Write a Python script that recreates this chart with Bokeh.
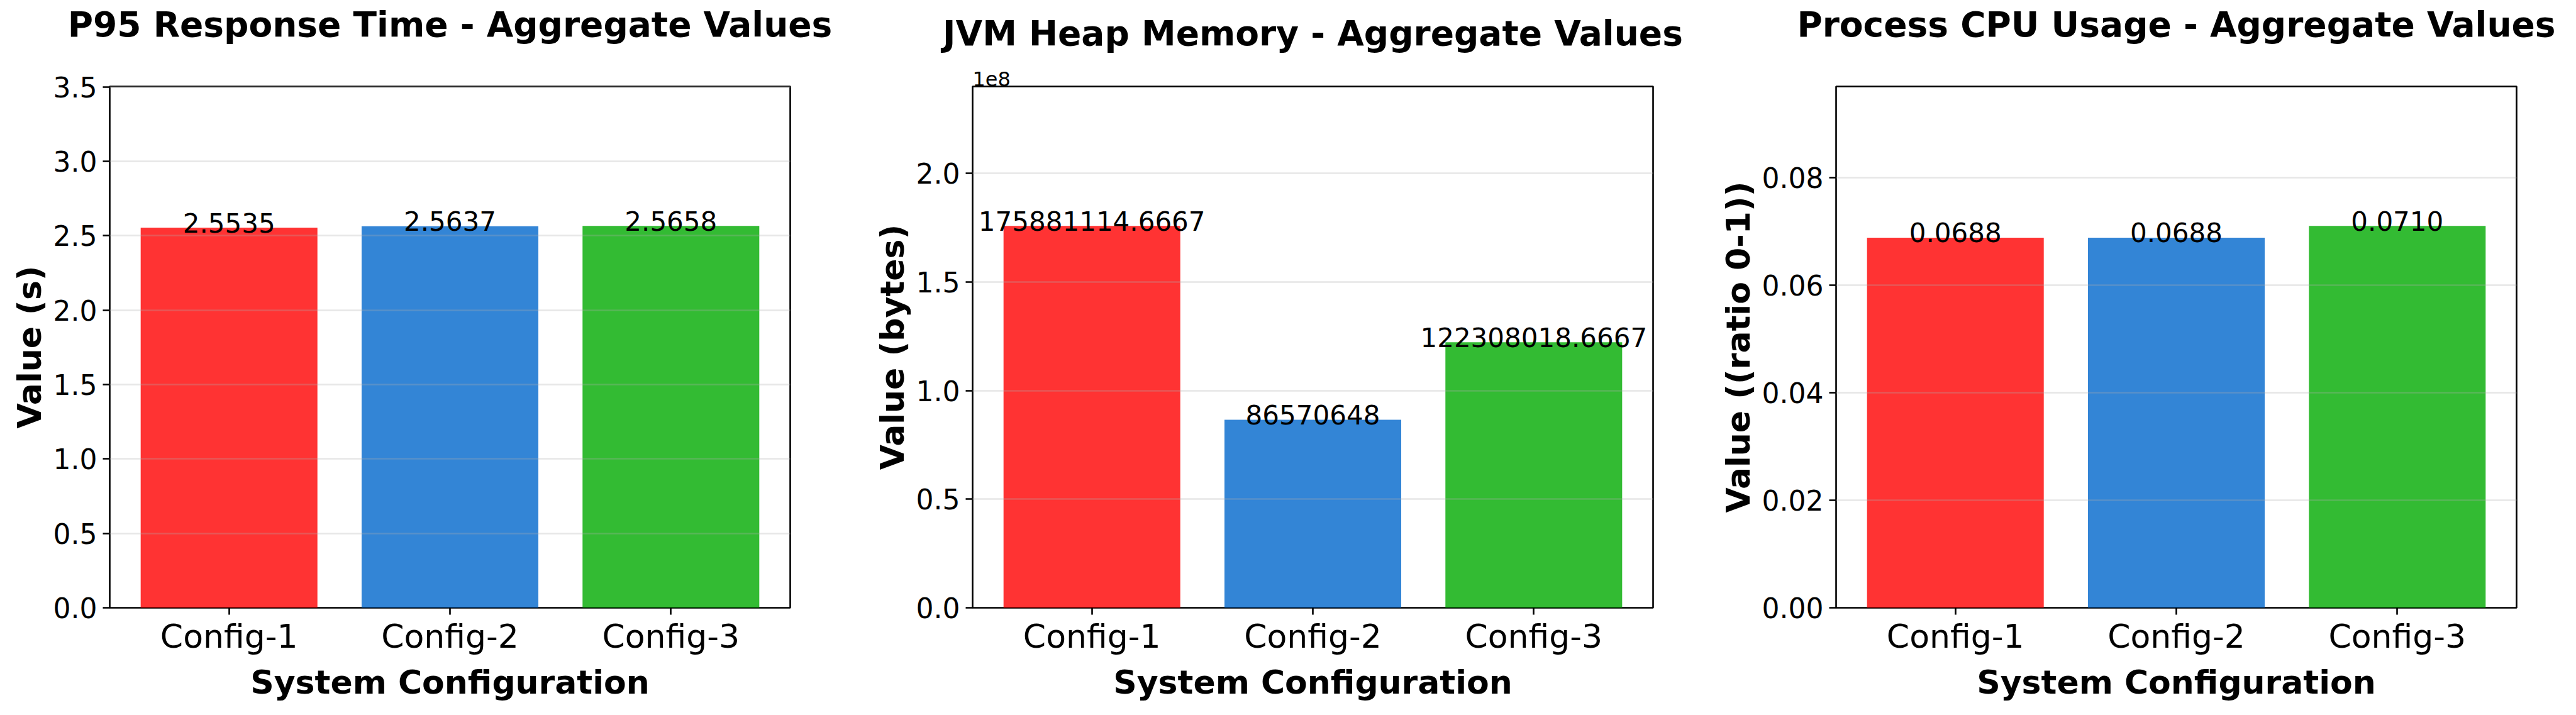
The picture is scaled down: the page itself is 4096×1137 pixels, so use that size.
from bokeh.plotting import figure
from bokeh.layouts import row
from bokeh.models import (Range1d, FixedTicker, PrintfTickFormatter, CustomJSTickFormatter,
                          ColumnDataSource, Title)
from bokeh.embed import file_html
from bokeh.resources import INLINE
from bokeh.core.properties import value

# ---------------- data ----------------
configs = ["Config-1", "Config-2", "Config-3"]
bar_colors = ["#FF0000", "#0066CC", "#00AA00"]

p95_values = [2.5535, 2.5637, 2.5658]
heap_values = [175881114.6667, 86570648.0, 122308018.6667]
cpu_values = [0.0688, 0.0688, 0.0710]

titles = ["P95 Response Time - Aggregate Values",
          "JVM Heap Memory - Aggregate Values",
          "Process CPU Usage - Aggregate Values"]
ylabels = ["Value (s)", "Value (bytes)", "Value ((ratio 0-1))"]
xlabel = "System Configuration"

p95_ticks = [0.0, 0.5, 1.0, 1.5, 2.0, 2.5, 3.0, 3.5]
heap_ticks = [0.0, 0.5e8, 1.0e8, 1.5e8, 2.0e8]
cpu_ticks = [0.0, 0.02, 0.04, 0.06, 0.08]
heap_offset_text = "1e8"

# ---------------- layout / style ----------------
FONT = "DejaVu Sans"
H = 1118
MBT = 137
FRAME_H = 829
MBB = H - MBT - FRAME_H
LW = 2.6
TICK = 11


def fmt(v):
    return str(int(v)) if float(v).is_integer() else f"{v:.4f}"


def make_panel(values, title, ylabel, yticks, yformatter, width, mbl, mbr, offset_text=None):
    n = len(values)
    xs = list(range(n))
    bw = 0.8
    span = (n - 1) + bw
    x0 = -bw / 2 - 0.05 * span
    x1 = (n - 1) + bw / 2 + 0.05 * span
    ytop = max(values) * 1.365

    p = figure(width=width, height=H, x_range=Range1d(x0, x1), y_range=Range1d(0, ytop),
               output_backend="svg", toolbar_location=None, tools="",
               min_border_left=mbl, min_border_right=mbr,
               min_border_top=MBT, min_border_bottom=MBB)
    p.title.text = ""
    p.background_fill_color = "white"
    p.border_fill_color = "white"
    p.outline_line_color = "black"
    p.outline_line_width = LW
    p.outline_line_alpha = 1.0

    # panels above the frame, added from the frame outward
    if offset_text:
        p.add_layout(Title(text=offset_text, align="left", text_font=FONT,
                           text_font_size="32px", text_font_style="normal",
                           text_color="black", standoff=2), "above")
        gap = 10
    else:
        gap = 51
    p.add_layout(Title(text=" ", text_font=FONT, text_font_size="10px",
                       standoff=gap), "above")
    p.add_layout(Title(text=title, align="center", text_font=FONT, text_font_size="55px",
                       text_font_style="bold", text_color="black", standoff=5), "above")

    src = ColumnDataSource(dict(x=xs, top=values, color=bar_colors[:n],
                                label=[fmt(v) for v in values]))
    p.vbar(x="x", top="top", bottom=0, width=bw, fill_color="color", fill_alpha=0.8,
           line_color=None, source=src)
    p.text(x="x", y="top", text="label", source=src, text_align="center",
           text_baseline="alphabetic", y_offset=-8, text_font=value(FONT),
           text_font_size="42px", text_color="black", level="overlay")

    # x axis
    xa = p.xaxis[0]
    xa.ticker = FixedTicker(ticks=xs)
    xa.major_label_overrides = {i: c for i, c in zip(xs, configs)}
    xa.major_label_text_font = FONT
    xa.major_label_text_font_size = "52px"
    xa.major_label_text_color = "black"
    xa.major_label_standoff = 4
    xa.major_tick_out = TICK
    xa.major_tick_in = 0
    xa.major_tick_line_width = LW
    xa.major_tick_line_color = "black"
    xa.minor_tick_line_color = None
    xa.axis_line_color = None
    xa.axis_label = xlabel
    xa.axis_label_text_font = FONT
    xa.axis_label_text_font_size = "52px"
    xa.axis_label_text_font_style = "bold"
    xa.axis_label_text_color = "black"
    xa.axis_label_standoff = 10

    # y axis
    ya = p.yaxis[0]
    ya.ticker = FixedTicker(ticks=yticks)
    ya.formatter = yformatter
    ya.major_label_text_font = FONT
    ya.major_label_text_font_size = "44px"
    ya.major_label_text_color = "black"
    ya.major_label_standoff = 9
    ya.major_tick_out = TICK
    ya.major_tick_in = 0
    ya.major_tick_line_width = LW
    ya.major_tick_line_color = "black"
    ya.minor_tick_line_color = None
    ya.axis_line_color = None
    ya.axis_label = ylabel
    ya.axis_label_text_font = FONT
    ya.axis_label_text_font_size = "52px"
    ya.axis_label_text_font_style = "bold"
    ya.axis_label_text_color = "black"
    ya.axis_label_standoff = 5

    # grid (drawn over the bars, as in the reference)
    p.xgrid.visible = False
    p.ygrid.ticker = FixedTicker(ticks=yticks)
    p.ygrid.grid_line_color = "#b0b0b0"
    p.ygrid.grid_line_alpha = 0.3
    p.ygrid.grid_line_width = LW
    p.ygrid.level = "guide"
    return p


widths = [1360, 1340, 1376]
lefts = [174, 186, 219]
rights = [104, 72, 75]

p1 = make_panel(p95_values, titles[0], ylabels[0], p95_ticks,
                PrintfTickFormatter(format="%.1f"), widths[0], lefts[0], rights[0])
p2 = make_panel(heap_values, titles[1], ylabels[1], heap_ticks,
                CustomJSTickFormatter(code="return (tick / 1e8).toFixed(1);"),
                widths[1], lefts[1], rights[1], offset_text=heap_offset_text)
p3 = make_panel(cpu_values, titles[2], ylabels[2], cpu_ticks,
                PrintfTickFormatter(format="%.2f"), widths[2], lefts[2], rights[2])

layout = row(p1, p2, p3, spacing=0)
open("out.html", "w").write(file_html(layout, INLINE))
